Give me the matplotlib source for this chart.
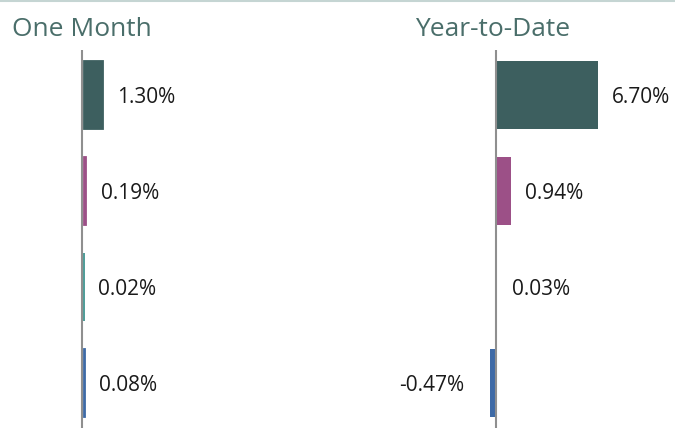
import matplotlib
matplotlib.use("Agg")
import matplotlib.pyplot as plt
from matplotlib.lines import Line2D

categories = ["A", "B", "C", "D"]
one_month = [1.30, 0.19, 0.02, 0.08]
ytd = [6.70, 0.94, 0.03, -0.47]
colors = ["#3d5f5f", "#9c5087", "#3f9490", "#3e6aa6"]
titles = ["One Month", "Year-to-Date"]

W, H = 675, 428
fig = plt.figure(figsize=(W / 100, H / 100), dpi=100)
plt.rcParams['font.family'] = ['Open Sans', 'DejaVu Sans']

px_per_unit = 15.0
# axes pixel geometry: (left px, right px, zero px)
panels = [(0, 337, 83.5), (337, 675, 497)]
edge_lw = [1.3, 0.0]
top_px = 50
bar_h = 68 / 96

for (l, r, z), vals, title, tx, elw in zip(panels, [one_month, ytd], titles, [12, 415], edge_lw):
    ax = fig.add_axes([l / W, 0, (r - l) / W, (H - top_px) / H])
    ax.set_xlim(-(z - l) / px_per_unit, (r - z) / px_per_unit)
    ax.set_ylim(3 + 45 / 96, -45 / 96)
    ys = list(range(len(categories)))
    ax.barh(ys, vals, height=bar_h, color=colors,
            edgecolor=colors if elw > 0 else "none", linewidth=elw, zorder=2)
    ax.axvline(-1.5 / px_per_unit if elw > 0 else -1.0 / px_per_unit,
               color="#8f8f8f", lw=1.5, zorder=3)
    for y, v in zip(ys, vals):
        if v >= 0:
            ax.text(v + 0.95, y + 0.03, f"{v:.2f}%", va="center", ha="left",
                    fontsize=15, color="#1a1a1a")
        else:
            ax.text(v - 1.7, y + 0.03, f"{v:.2f}%", va="center", ha="right",
                    fontsize=15, color="#1a1a1a")
    ax.axis("off")
    fig.text(tx / W, 1 - 36.5 / H, title, fontsize=19, color="#4a6e6a",
             va="baseline", ha="left")

fig.add_artist(Line2D([0, 1], [1 - 1 / H, 1 - 1 / H], color="#c5d5d3", lw=1.5,
                      transform=fig.transFigure))

fig.savefig("out.png", dpi=100)
